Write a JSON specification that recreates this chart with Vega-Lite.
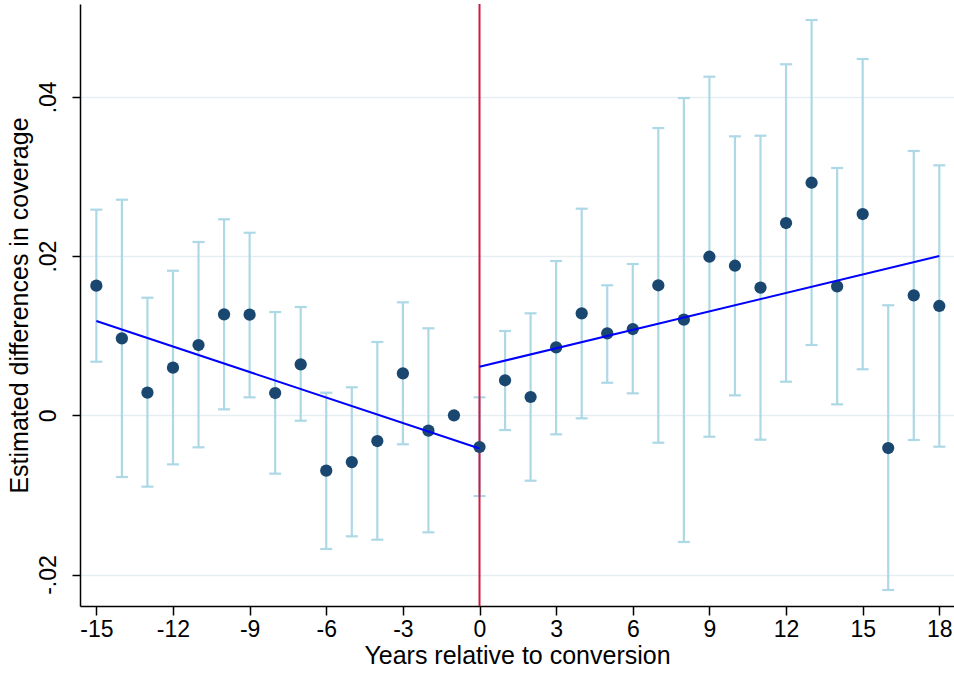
{
  "$schema": "https://vega.github.io/schema/vega-lite/v6.json",
  "width": 874,
  "height": 602,
  "autosize": "none",
  "padding": {"left": 80, "top": 4, "right": 0, "bottom": 69},
  "background": "white",
  "config": {
    "view": {"stroke": null},
    "font": "Liberation Sans"
  },
  "datasets": {
    "est": [
      {"t": -15, "b": 0.01628, "lo": 0.00673, "hi": 0.02583},
      {"t": -14, "b": 0.00967, "lo": -0.00775, "hi": 0.02708},
      {"t": -13, "b": 0.00284, "lo": -0.00896, "hi": 0.01477},
      {"t": -12, "b": 0.00598, "lo": -0.00616, "hi": 0.01816},
      {"t": -11, "b": 0.00883, "lo": -0.00402, "hi": 0.02177},
      {"t": -10, "b": 0.01268, "lo": 0.00075, "hi": 0.02462},
      {"t": -9, "b": 0.01264, "lo": 0.00226, "hi": 0.02293},
      {"t": -8, "b": 0.0028, "lo": -0.00733, "hi": 0.01297},
      {"t": -7, "b": 0.0064, "lo": -0.00068, "hi": 0.0136},
      {"t": -6, "b": -0.00695, "lo": -0.01679, "hi": 0.00284},
      {"t": -5, "b": -0.00587, "lo": -0.0152, "hi": 0.00352},
      {"t": -4, "b": -0.00323, "lo": -0.01562, "hi": 0.00921},
      {"t": -3, "b": 0.00527, "lo": -0.00364, "hi": 0.01419},
      {"t": -2, "b": -0.00193, "lo": -0.0147, "hi": 0.01093},
      {"t": -1, "b": 0.0, "lo": null, "hi": null},
      {"t": 0, "b": -0.00398, "lo": -0.01014, "hi": 0.00226},
      {"t": 1, "b": 0.0044, "lo": -0.00185, "hi": 0.01059},
      {"t": 2, "b": 0.0023, "lo": -0.00821, "hi": 0.01281},
      {"t": 3, "b": 0.00854, "lo": -0.00239, "hi": 0.01938},
      {"t": 4, "b": 0.01281, "lo": -0.00038, "hi": 0.02595},
      {"t": 5, "b": 0.0103, "lo": 0.00409, "hi": 0.01633},
      {"t": 6, "b": 0.01084, "lo": 0.00276, "hi": 0.019},
      {"t": 7, "b": 0.01633, "lo": -0.00344, "hi": 0.03608},
      {"t": 8, "b": 0.01201, "lo": -0.01591, "hi": 0.03985},
      {"t": 9, "b": 0.01992, "lo": -0.00269, "hi": 0.04253},
      {"t": 10, "b": 0.01879, "lo": 0.00251, "hi": 0.03504},
      {"t": 11, "b": 0.01603, "lo": -0.00306, "hi": 0.03512},
      {"t": 12, "b": 0.02415, "lo": 0.00422, "hi": 0.04409},
      {"t": 13, "b": 0.02921, "lo": 0.00883, "hi": 0.04965},
      {"t": 14, "b": 0.0162, "lo": 0.00138, "hi": 0.03106},
      {"t": 15, "b": 0.02528, "lo": 0.00578, "hi": 0.04475},
      {"t": 16, "b": -0.00411, "lo": -0.02194, "hi": 0.01382},
      {"t": 17, "b": 0.01507, "lo": -0.0031, "hi": 0.0332},
      {"t": 18, "b": 0.01373, "lo": -0.00394, "hi": 0.0314}
    ],
    "fit": [
      {"t": -15, "fit": 0.01184, "seg": "pre"},
      {"t": 0, "fit": -0.00417, "seg": "pre"},
      {"t": 0, "fit": 0.0061, "seg": "post"},
      {"t": 18, "fit": 0.02001, "seg": "post"}
    ],
    "vline": [{"t": 0}]
  },
  "encoding": {
    "x": {
      "field": "t",
      "type": "quantitative",
      "scale": {"domain": [-15.64, 18.575], "nice": false, "zero": false},
      "axis": {
        "title": "Years relative to conversion",
        "values": [-15, -12, -9, -6, -3, 0, 3, 6, 9, 12, 15, 18],
        "labelExpr": "toString(datum.value)",
        "grid": false,
        "domainColor": "black",
        "domainWidth": 1.5,
        "tickColor": "black",
        "tickWidth": 1.5,
        "tickSize": 9,
        "labelFontSize": 23,
        "labelColor": "black",
        "labelPadding": 3,
        "labelFont": "Liberation Sans",
        "titleFont": "Liberation Sans",
        "titleFontSize": 25,
        "titleFontWeight": "normal",
        "titleColor": "black",
        "titlePadding": 2
      }
    }
  },
  "layer": [
    {
      "data": {"name": "est"},
      "transform": [{"filter": "isValid(datum.lo)"}],
      "mark": {"type": "rule", "color": "#add8e6", "strokeWidth": 2.2},
      "encoding": {
        "y": {
          "field": "lo",
          "type": "quantitative",
          "scale": {"domain": [-0.02395, 0.05166], "nice": false, "zero": false},
          "axis": {
            "title": "Estimated differences in coverage",
            "values": [-0.02, 0, 0.02, 0.04],
            "labelExpr": "datum.value == 0 ? '0' : replace(toString(datum.value), '0.', '.')",
            "labelAngle": -90,
            "labelAlign": "center",
            "labelBaseline": "bottom",
            "grid": true,
            "gridColor": "#e6eef1",
            "gridWidth": 1.5,
            "domainColor": "black",
            "domainWidth": 1.5,
            "tickColor": "black",
            "tickWidth": 1.5,
            "tickSize": 8,
            "labelFontSize": 23,
            "labelColor": "black",
            "labelPadding": 12,
            "labelFont": "Liberation Sans",
            "titleFont": "Liberation Sans",
            "titleFontSize": 25,
            "titleFontWeight": "normal",
            "titleColor": "black",
            "titlePadding": 5
          }
        },
        "y2": {"field": "hi"}
      }
    },
    {
      "data": {"name": "est"},
      "transform": [{"filter": "isValid(datum.lo)"}],
      "mark": {"type": "tick", "orient": "horizontal", "color": "#add8e6", "size": 12, "thickness": 2.2, "opacity": 1},
      "encoding": {"y": {"field": "lo", "type": "quantitative"}}
    },
    {
      "data": {"name": "est"},
      "transform": [{"filter": "isValid(datum.lo)"}],
      "mark": {"type": "tick", "orient": "horizontal", "color": "#add8e6", "size": 12, "thickness": 2.2, "opacity": 1},
      "encoding": {"y": {"field": "hi", "type": "quantitative"}}
    },
    {
      "data": {"name": "vline"},
      "mark": {"type": "rule", "color": "#cf1a42", "strokeWidth": 2},
      "encoding": {}
    },
    {
      "data": {"name": "est"},
      "mark": {"type": "circle", "color": "#1a476f", "size": 150, "opacity": 1},
      "encoding": {"y": {"field": "b", "type": "quantitative"}}
    },
    {
      "data": {"name": "fit"},
      "mark": {"type": "line", "color": "#0000ff", "strokeWidth": 2},
      "encoding": {
        "y": {"field": "fit", "type": "quantitative"},
        "detail": {"field": "seg"}
      }
    }
  ]
}
